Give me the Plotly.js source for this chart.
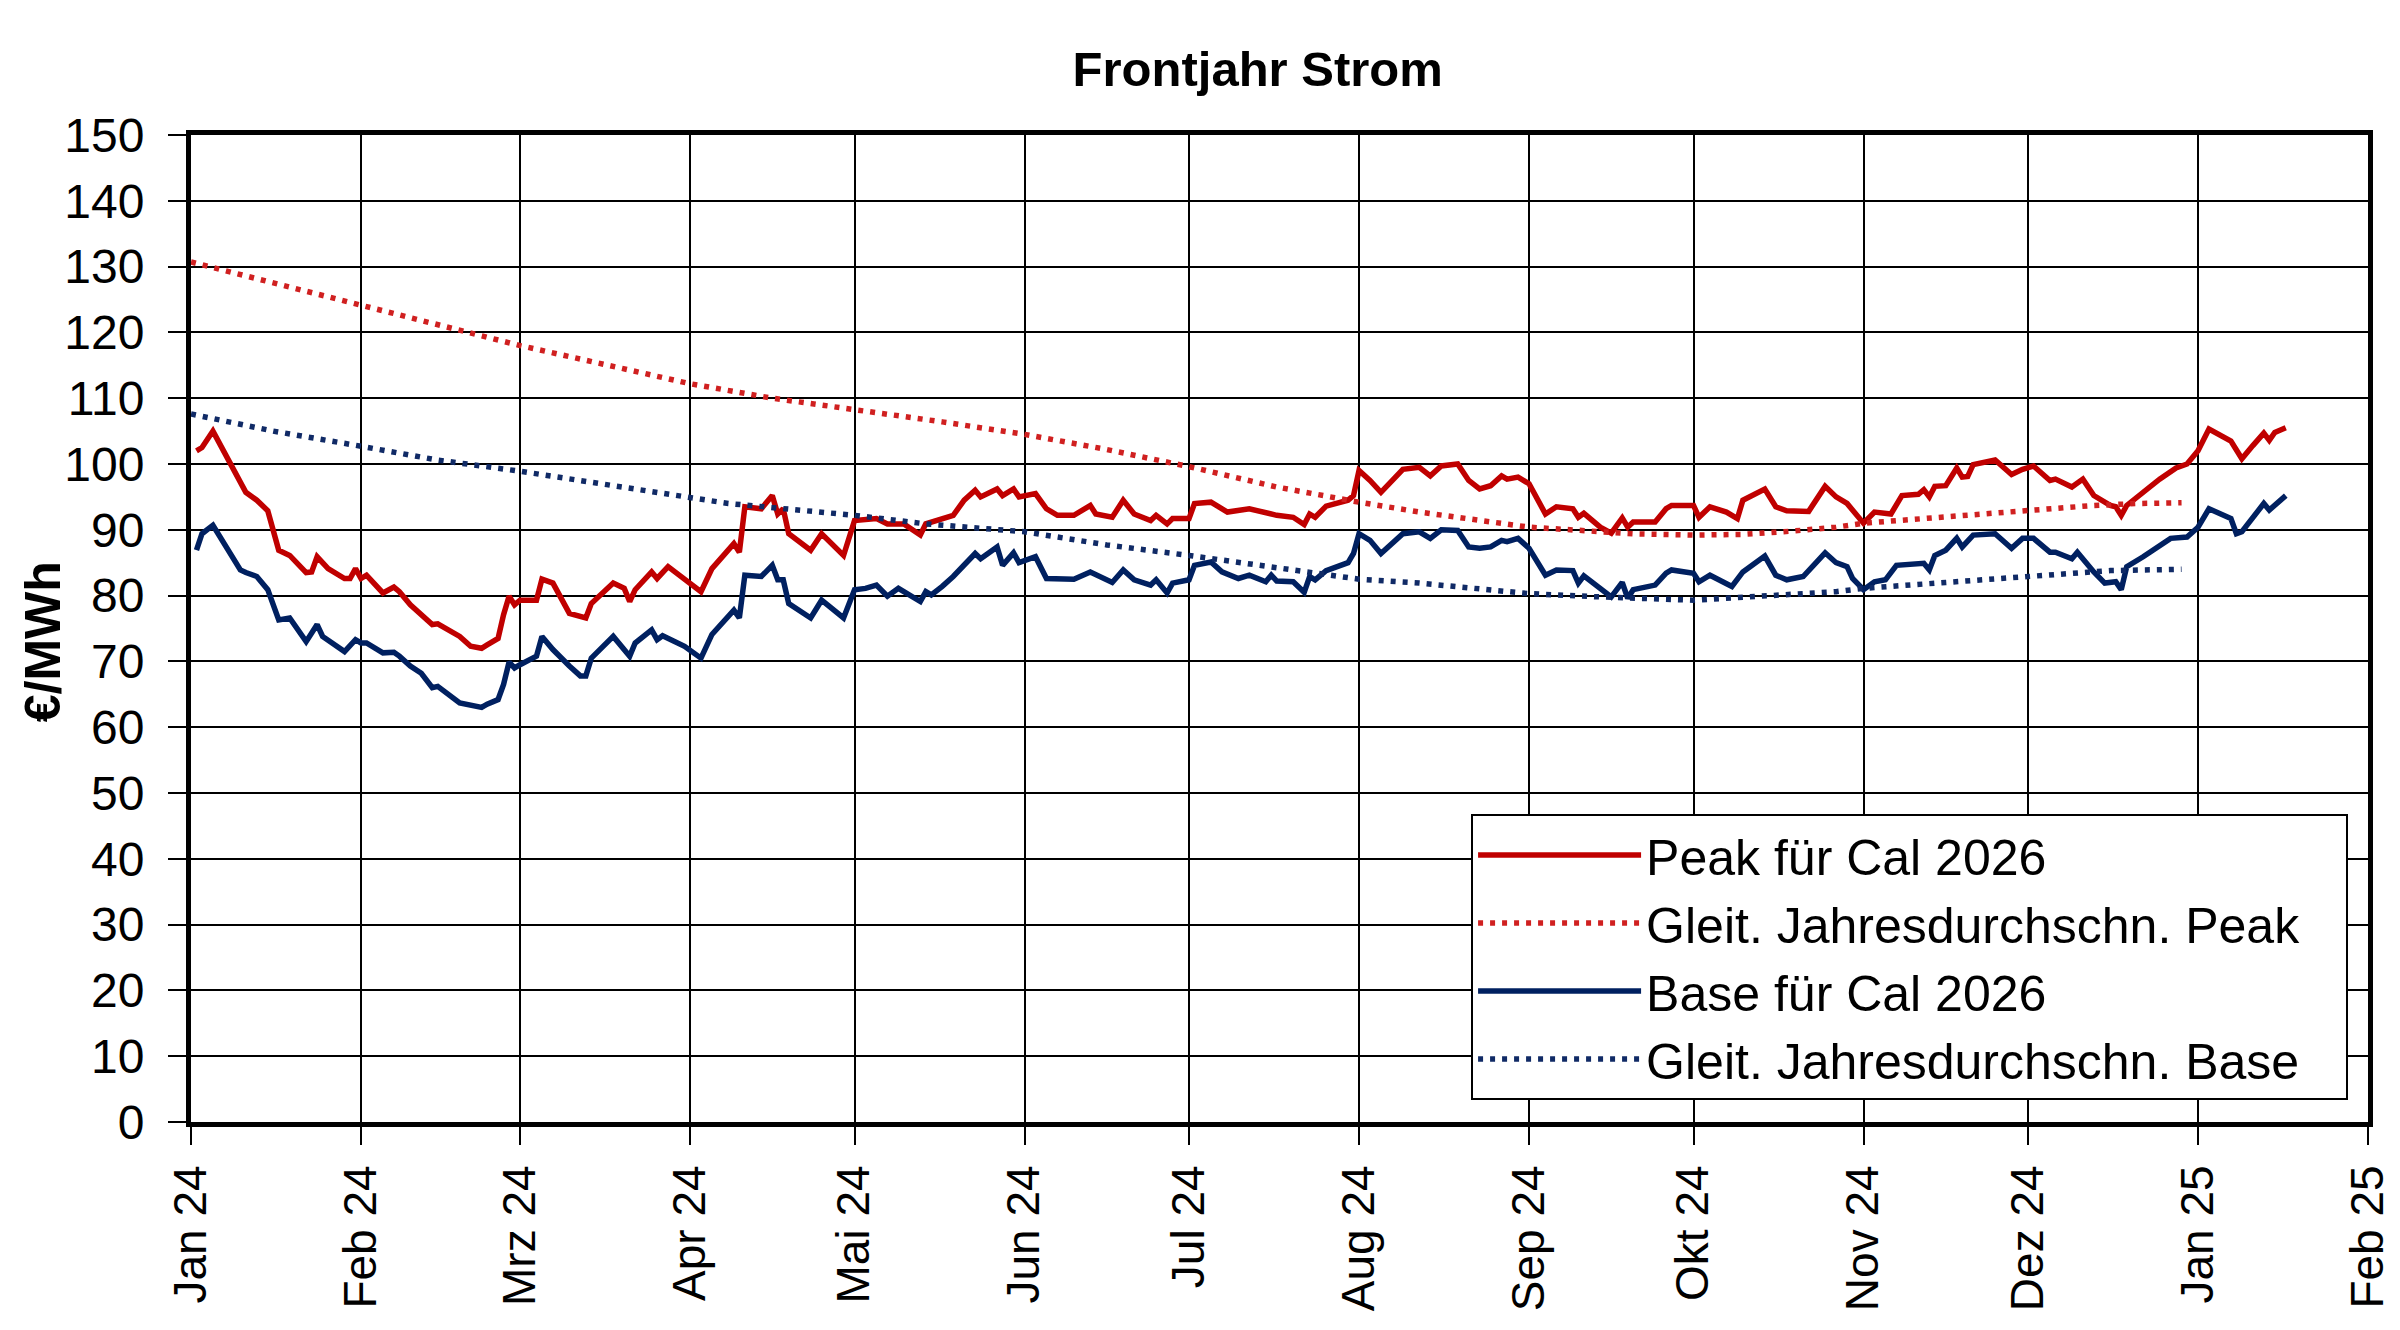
<!DOCTYPE html>
<html>
<head>
<meta charset="utf-8">
<script src="https://cdn.plot.ly/plotly-3.0.1.min.js"></script>
<style>
  html, body { margin: 0; padding: 0; background: #fff; }
  #plot { width: 2400px; height: 1330px; }
</style>
</head>
<body>
<div id="plot"></div>
<script>
// day offsets count from 1 Jan 2024
const peakDays = [1, 2, 4, 7, 10, 12, 14, 16, 18, 21, 22, 23, 25, 28, 29, 30, 31, 32, 35, 37, 38, 40, 42, 44, 45, 49, 51, 53, 54, 56, 57, 58, 59, 60, 63, 64, 66, 69, 72, 73, 77, 79, 80, 81, 84, 85, 87, 90, 93, 95, 99, 100, 101,
  104, 106, 107, 108, 109, 113, 115, 119, 121, 125, 127, 130, 133, 134, 139, 141, 143, 144, 147, 148, 150, 151, 154, 156, 158, 161, 164, 165, 168, 170, 172, 175, 176, 178, 179, 182, 183, 186, 189, 193,
  198, 201, 203, 204, 205, 207, 211, 212, 213, 215, 217, 221, 224, 226, 228, 231, 233, 235, 237, 239, 240, 242, 244, 247, 249, 252, 253, 254, 257, 259, 261, 262, 263, 267, 269, 270, 274, 275, 277, 280, 282, 283, 287, 289, 291, 295,
  298, 300, 302, 305, 307, 310, 312, 315, 316, 317, 318, 320, 322, 323, 324, 325, 329, 332, 334, 336, 339, 340, 343, 345, 347, 350, 351, 352, 353, 356, 359, 362, 364, 366, 368, 372, 374, 376, 378, 379, 380, 382];
const peakVals = [102.0, 102.5, 105.0, 100.5, 95.7, 94.5, 92.9, 86.9, 86.1, 83.5, 83.6, 85.9, 84.1, 82.6, 82.6, 84.1, 82.6, 83.1, 80.4, 81.3, 80.6, 78.6, 77.1, 75.6, 75.7, 73.8, 72.3, 72.0, 72.5, 73.5, 77.1, 79.9, 78.6, 79.3, 79.3, 82.5, 81.9, 77.3, 76.6, 78.8, 81.9, 81.1, 79.1, 80.9, 83.6, 82.6, 84.4, 82.4, 80.6, 84.1, 87.9, 86.6, 93.5,
  93.2, 95.2, 92.4, 93.2, 89.4, 86.9, 89.4, 86.1, 91.4, 91.7, 90.9, 90.9, 89.2, 90.9, 92.2, 94.5, 96.0, 95.0, 96.2, 95.2, 96.2, 95.0, 95.5, 93.2, 92.2, 92.2, 93.7, 92.4, 91.9, 94.5, 92.4, 91.4, 92.2, 90.9, 91.7, 91.7, 94.0, 94.2, 92.7, 93.2,
  92.2, 91.9, 90.8, 92.4, 91.9, 93.6, 94.5, 95.2, 99.0, 97.5, 95.7, 99.2, 99.5, 98.2, 99.7, 100.0, 97.5, 96.2, 96.7, 98.2, 97.7, 98.0, 97.0, 92.4, 93.5, 93.2, 91.9, 92.5, 90.4, 89.5, 91.8, 90.4, 91.2, 91.2, 93.2, 93.7, 93.7, 91.9, 93.5, 92.7, 91.7, 94.5, 96.2, 93.5, 92.9, 92.8,
  96.6, 95.0, 94.0, 91.0, 92.7, 92.4, 95.2, 95.4, 96.1, 95.0, 96.6, 96.7, 99.4, 98.0, 98.1, 99.9, 100.6, 98.4, 99.2, 99.7, 97.5, 97.7, 96.5, 97.7, 95.2, 93.7, 93.5, 92.2, 93.7, 95.7, 97.7, 99.4, 100.0, 102.0, 105.3, 103.5, 100.8, 102.8, 104.7, 103.6, 104.8, 105.5];

const baseDays = [1, 2, 4, 6, 9, 10, 12, 14, 16, 18, 21, 23, 24, 28, 30, 31, 32, 35, 37, 38, 40, 42, 44, 45, 49, 53, 54, 56, 57, 58, 59, 60, 63, 64, 66, 69, 71, 72, 73, 77, 80, 81, 84, 85, 86, 90, 93, 95, 99, 100, 101,
  104, 106, 107, 108, 109, 113, 115, 119, 121, 123, 125, 127, 129, 133, 134, 135, 137, 139, 143, 144, 147, 148, 150, 151, 154, 156, 161, 164, 168, 170, 172, 175, 176, 178, 179, 182, 183, 186, 188, 191, 193, 196, 197,
  198, 201, 203, 204, 205, 207, 211, 212, 213, 215, 217, 221, 224, 226, 228, 231, 233, 235, 237, 239, 240, 242, 244, 247, 249, 252, 253, 254, 257, 259, 261, 262, 263, 267, 269, 270, 274, 275, 277, 281, 283, 287, 289, 291, 294,
  298, 300, 302, 303, 305, 307, 309, 311, 316, 317, 318, 320, 322, 323, 325, 329, 332, 334, 336, 339, 340, 343, 344, 347, 349, 351, 352, 353, 356, 361, 364, 366, 368, 372, 373, 374, 378, 379, 380, 382];
const baseVals = [86.9, 89.4, 90.7, 87.9, 83.9, 83.5, 82.9, 80.9, 76.3, 76.6, 73.0, 75.6, 73.8, 71.5, 73.3, 72.8, 72.8, 71.3, 71.4, 70.8, 69.3, 68.2, 66.0, 66.2, 63.7, 63.0, 63.5, 64.2, 66.5, 69.9, 69.0, 69.5, 70.8, 73.8, 71.8, 69.3, 67.8, 67.8, 70.5, 73.8, 70.8, 72.8, 74.8, 73.3, 73.9, 72.3, 70.5, 74.1, 77.8, 76.6, 83.1,
  82.9, 84.6, 82.4, 82.4, 78.8, 76.6, 79.3, 76.6, 80.9, 81.1, 81.6, 79.9, 81.1, 79.1, 80.6, 80.1, 81.4, 82.9, 86.4, 85.6, 87.4, 84.6, 86.5, 85.0, 85.9, 82.6, 82.5, 83.6, 82.0, 83.9, 82.4, 81.6, 82.4, 80.4, 81.9, 82.4, 84.6, 85.1, 83.6, 82.6, 83.1, 82.1, 83.1,
  82.2, 82.1, 80.5, 82.9, 82.4, 83.8, 85.0, 86.4, 89.4, 88.4, 86.4, 89.4, 89.7, 88.7, 90.0, 89.9, 87.4, 87.2, 87.4, 88.4, 88.2, 88.7, 87.2, 83.1, 83.9, 83.8, 81.9, 83.0, 81.1, 79.8, 82.0, 79.6, 80.9, 81.6, 83.4, 83.9, 83.4, 82.1, 83.1, 81.4, 83.6, 86.0, 83.1, 82.4, 82.9,
  86.5, 85.0, 84.4, 82.6, 80.9, 82.1, 82.4, 84.6, 84.9, 83.9, 86.1, 86.9, 88.7, 87.4, 89.2, 89.4, 87.2, 88.7, 88.7, 86.6, 86.6, 85.6, 86.6, 83.6, 81.9, 82.1, 80.9, 84.4, 85.9, 88.7, 88.9, 90.4, 93.2, 91.7, 89.4, 89.7, 94.0, 93.0, 93.7, 95.2];

const maPeakDays = [0, 15, 31, 45, 60, 75, 91, 106, 121, 137, 152, 167, 182, 190, 198, 213, 224, 244, 254, 263, 274, 283, 292, 300, 305, 320, 335, 347, 355, 363];
const maPeakVals = [130.7, 127.5, 124.0, 121.0, 118.0, 115.2, 112.2, 110.0, 108.3, 106.4, 104.5, 102.2, 99.6, 98.0, 96.5, 94.2, 92.7, 90.4, 89.8, 89.4, 89.2, 89.3, 89.8, 90.4, 91.0, 92.0, 92.8, 93.7, 94.0, 94.1];

const maBaseDays = [0, 15, 31, 45, 60, 76, 91, 98, 121, 134, 152, 167, 182, 198, 213, 224, 244, 257, 263, 274, 300, 305, 320, 335, 350, 363];
const maBaseVals = [107.6, 105.0, 102.7, 100.6, 98.9, 96.9, 95.0, 94.0, 92.2, 90.9, 89.7, 87.7, 86.1, 84.3, 82.5, 81.9, 80.3, 79.8, 79.6, 79.3, 80.6, 81.1, 82.0, 83.0, 83.8, 84.0];

const monthTicks = ['2024-01-01', '2024-02-01', '2024-03-01', '2024-04-01', '2024-05-01', '2024-06-01', '2024-07-01',
  '2024-08-01', '2024-09-01', '2024-10-01', '2024-11-01', '2024-12-01', '2025-01-01', '2025-02-01'];
const monthLabels = ['Jan 24', 'Feb 24', 'Mrz 24', 'Apr 24', 'Mai 24', 'Jun 24', 'Jul 24',
  'Aug 24', 'Sep 24', 'Okt 24', 'Nov 24', 'Dez 24', 'Jan 25', 'Feb 25'];

const dayZero = Date.UTC(2024, 0, 1);
const toDate = d => new Date(dayZero + d * 86400000).toISOString().slice(0, 10);

const peakColor = '#C00000';
const baseColor = '#002060';
const dotDash = '5px,7px';
// a little room after the legend text, like the original box
const pad = '&nbsp;&nbsp;&nbsp;';

const traces = [
  {
    x: peakDays.map(toDate), y: peakVals,
    type: 'scatter', mode: 'lines',
    line: { color: peakColor, width: 5.5 },
    name: 'Peak für Cal 2026' + pad
  },
  {
    x: maPeakDays.map(toDate), y: maPeakVals,
    type: 'scatter', mode: 'lines',
    line: { color: '#D02020', width: 5.5, dash: dotDash },
    name: 'Gleit. Jahresdurchschn. Peak' + pad
  },
  {
    x: baseDays.map(toDate), y: baseVals,
    type: 'scatter', mode: 'lines',
    line: { color: baseColor, width: 5.5 },
    name: 'Base für Cal 2026' + pad
  },
  {
    x: maBaseDays.map(toDate), y: maBaseVals,
    type: 'scatter', mode: 'lines',
    line: { color: '#102A66', width: 5.5, dash: dotDash },
    name: 'Gleit. Jahresdurchschn. Base' + pad
  }
];

const font = 'Liberation Sans, Arial, sans-serif';

const layout = {
  width: 2400,
  height: 1330,
  margin: { l: 191, r: 32, t: 135, b: 208 },
  paper_bgcolor: '#fff',
  plot_bgcolor: '#fff',
  font: { family: font, color: '#000' },
  title: {
    text: '<b>Frontjahr Strom</b>',
    font: { family: font, size: 49, color: '#000' },
    xref: 'paper', x: 0.49, xanchor: 'center',
    yref: 'container', y: 0.948, yanchor: 'middle'
  },
  xaxis: {
    type: 'date',
    range: ['2024-01-01', '2025-02-01'],
    tickvals: monthTicks,
    ticktext: monthLabels,
    tickangle: -90,
    tickfont: { size: 46 },
    ticks: 'outside', ticklen: 18, tickwidth: 2, tickcolor: '#000',
    ticklabelstandoff: 2,
    showgrid: true, gridcolor: '#000', gridwidth: 2,
    showline: true, linecolor: '#000', linewidth: 5, mirror: true,
    zeroline: false, fixedrange: true
  },
  yaxis: {
    range: [0, 150],
    tick0: 0, dtick: 10,
    tickfont: { size: 48 },
    ticks: 'outside', ticklen: 18, tickwidth: 2, tickcolor: '#000',
    ticklabelstandoff: 14,
    showgrid: true, gridcolor: '#000', gridwidth: 2,
    showline: true, linecolor: '#000', linewidth: 5, mirror: true,
    zeroline: false, fixedrange: true
  },
  // y title as annotation so it can sit closer to the tick labels
  annotations: [{
    text: '<b>€/MWh</b>',
    xref: 'paper', yref: 'paper',
    x: -0.068, y: 0.487,
    xanchor: 'center', yanchor: 'middle',
    textangle: -90, showarrow: false,
    font: { family: font, size: 50, color: '#000' }
  }],
  showlegend: true,
  legend: {
    x: 0.588, y: 0.312, xanchor: 'left', yanchor: 'top',
    bgcolor: '#fff', bordercolor: '#000', borderwidth: 2,
    font: { size: 50, color: '#000' },
    itemwidth: 163,
    tracegroupgap: 0
  }
};

Plotly.newPlot('plot', traces, layout, { displayModeBar: false, staticPlot: true });
</script>
</body>
</html>
